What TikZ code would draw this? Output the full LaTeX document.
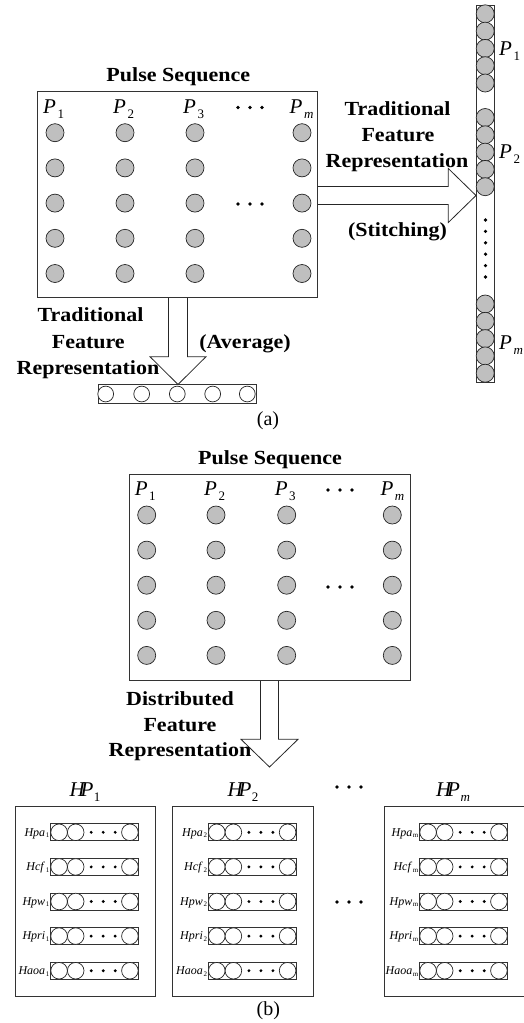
\documentclass[tikz,border=0pt]{standalone}
\usepackage{fontspec}
\setmainfont{Liberation Serif}
\usepackage{graphicx}
\newcommand{\widetxt}[1]{\scalebox{1.1}[1]{#1}}
\newcommand{\Plab}[1]{\textit{P}\kern1.5pt\raisebox{-5pt}{\fontsize{13}{13}\selectfont #1}}
\newcommand{\HPlab}[1]{\textit{H\kern-4pt P}\kern0.5pt\raisebox{-5pt}{\fontsize{13}{13}\selectfont #1}}
\newcommand{\slab}[2]{\textit{#1}\kern0.6pt\raisebox{-1.5pt}{\fontsize{7}{7}\selectfont #2}}
\tikzset{
  pbox/.style={draw=black!80, line width=0.9pt, inner sep=0pt, outer sep=0pt},
  gc/.style={circle, draw=black!85, fill=black!25, minimum size=18pt, inner sep=0pt, line width=0.7pt},
  wc/.style={circle, draw=black!85, fill=white, minimum size=15.8pt, inner sep=0pt, line width=0.7pt},
  hc/.style={circle, draw=black!85, fill=white, minimum size=16.6pt, inner sep=0pt, line width=0.7pt},
  btxt/.style={font=\fontsize{20}{24}\selectfont\bfseries, anchor=base, inner sep=0pt},
  plabel/.style={font=\fontsize{21}{24}\selectfont, anchor=base west, inner sep=0pt},
  arr/.style={draw=black!85, fill=white, line width=0.8pt, line join=miter},
  dt/.style={fill=black}
}
\begin{document}
\begin{tikzpicture}[x=1pt,y=-1pt]
\useasboundingbox (0,0) rectangle (523,1023);

% ================= (a) =================
% arrows (drawn first)
\draw[arr] (317.7,186.5) -- (448.3,186.5) -- (448.3,168.5) -- (476,195.5) -- (448.3,222.5) -- (448.3,204.5) -- (317.7,204.5);
\draw[arr] (168.5,297.7) -- (168.5,356.7) -- (150,356.7) -- (178,384.5) -- (206,356.7) -- (187.5,356.7) -- (187.5,297.7);

\node[pbox, minimum width=280pt, minimum height=206pt] (boxA) at (177.7,194.7) {};
\node[btxt] (titleA) at (178.3,81) {\widetxt{Pulse Sequence}};

\foreach \x [count=\c] in {55,125,195,302}
  \foreach \y [count=\r] in {132.7,167.9,203.1,238.3,273.5}
    \node[gc] (a\c\r) at (\x,\y) {};

\node[plabel] (aP1) at (43,113.5) {\Plab{1}};
\node[plabel] (aP2) at (113,113.5) {\Plab{2}};
\node[plabel] (aP3) at (183,113.5) {\Plab{3}};
\node[plabel] (aPm) at (289.5,113.5) {\Plab{\textit{m}}};
\foreach \x in {238,250,262} { \fill[dt] (\x,107.5) circle (1.8); \fill[dt] (\x,204) circle (1.8); }

% right text
\node[btxt] (rt1) at (397.5,115) {\widetxt{Traditional}};
\node[btxt] (rt2) at (398,141.5) {\widetxt{Feature}};
\node[btxt] (rt3) at (397,167) {\widetxt{Representation}};
\node[btxt] (rt4) at (397.5,236.7) {\widetxt{(Stitching)}};

% left text
\node[btxt] (lt1) at (90.5,321.7) {\widetxt{Traditional}};
\node[btxt] (lt2) at (88.3,348.3) {\widetxt{Feature}};
\node[btxt] (lt3) at (88,374) {\widetxt{Representation}};
\node[btxt] (lt4) at (245,348.3) {\widetxt{(Average)}};

% right vertical bar
\node[pbox, minimum width=18.3pt, minimum height=377.5pt] (vbar) at (485.2,193.75) {};
\foreach \y [count=\i] in {13.8,31.1,48.4,65.7,83,117.5,134.8,152.1,169.4,186.7,304,321.3,338.6,355.9,373.2}
  \node[gc] (v\i) at (485.2,\y) {};
\foreach \y in {220,231.4,242.8,254.2,265.6,277} \fill[dt] (485.5,\y) circle (1.8);
\node[plabel] (vP1) at (499,55) {\Plab{1}};
\node[plabel] (vP2) at (499,158.5) {\Plab{2}};
\node[plabel] (vPm) at (499,349) {\Plab{\textit{m}}};

% bottom horizontal bar
\node[pbox, minimum width=158.4pt, minimum height=19.3pt] (hbar) at (177.5,393.7) {};
\foreach \x [count=\i] in {105.7,141.7,177.3,212.7,247.3}
  \node[wc] (h\i) at (\x,394) {};

\node[font=\fontsize{20}{24}\selectfont, anchor=base, inner sep=0pt] (capA) at (268,425) {(a)};

% ================= (b) =================
\draw[arr] (260.5,680.7) -- (260.5,739.3) -- (241,739.3) -- (269.5,767) -- (298,739.3) -- (278.5,739.3) -- (278.5,680.7);

\node[pbox, minimum width=281pt, minimum height=206.7pt] (boxB) at (269.5,577.35) {};
\node[btxt] (titleB) at (270,464) {\widetxt{Pulse Sequence}};

\foreach \x [count=\c] in {146.7,216,286.7,392.3}
  \foreach \y [count=\r] in {515,550.1,585.2,620.3,655.4}
    \node[gc] (b\c\r) at (\x,\y) {};

\node[plabel] (bP1) at (134.7,495.6) {\Plab{1}};
\node[plabel] (bP2) at (204,495.6) {\Plab{2}};
\node[plabel] (bP3) at (274.7,495.6) {\Plab{3}};
\node[plabel] (bPm) at (380.3,495.6) {\Plab{\textit{m}}};
\foreach \x in {328,340,352} { \fill[dt] (\x,490) circle (1.8); \fill[dt] (\x,587) circle (1.8); }

\node[btxt] (dt1) at (180,705) {\widetxt{Distributed}};
\node[btxt] (dt2) at (180,731) {\widetxt{Feature}};
\node[btxt] (dt3) at (180,756.7) {\widetxt{Representation}};

\node[font=\fontsize{21}{24}\selectfont, anchor=base, inner sep=0pt] (HP1) at (85,796.7) {\HPlab{1}};
\node[font=\fontsize{21}{24}\selectfont, anchor=base, inner sep=0pt] (HP2) at (243,796.7) {\HPlab{2}};
\node[font=\fontsize{21}{24}\selectfont, anchor=base, inner sep=0pt] (HPm) at (453,796.7) {\HPlab{\textit{m}}};
\foreach \x in {337,349,361} { \fill[dt] (\x,787) circle (1.8); \fill[dt] (\x,902) circle (1.8); }

\foreach \bx/\sub [count=\k] in {15/1, 172.7/2, 384/m} {
  \node[pbox, minimum width=140.7pt, minimum height=189.3pt, anchor=north west] (hb\k) at (\bx,806.7) {};
  \foreach \lab [count=\r] in {Hpa,Hcf,Hpw,Hpri,Haoa} {
    \pgfmathsetmacro{\yy}{832.3+34.6*(\r-1)}
    \pgfmathsetmacro{\bl}{\bx+35.7}
    \node[pbox, minimum width=87.6pt, minimum height=17pt, anchor=west] (bar\k\r) at (\bl,\yy) {};
    \node[hc] (c\k\r a) at (\bl+8.4,\yy) {};
    \node[hc] (c\k\r b) at (\bl+25,\yy) {};
    \node[hc] (c\k\r c) at (\bl+79.2,\yy) {};
    \foreach \d in {40.5,52.5,64.5} \fill[dt] (\bl+\d,\yy) circle (1.6);
    \node[anchor=base east, font=\fontsize{12}{12}\selectfont, inner sep=0pt] (l\k\r) at (\bl-1.2,\yy+3.8) {\slab{\lab}{\sub}};
  }
}

\node[font=\fontsize{20}{24}\selectfont, anchor=base, inner sep=0pt] (capB) at (268.3,1015) {(b)};
\end{tikzpicture}
\end{document}
